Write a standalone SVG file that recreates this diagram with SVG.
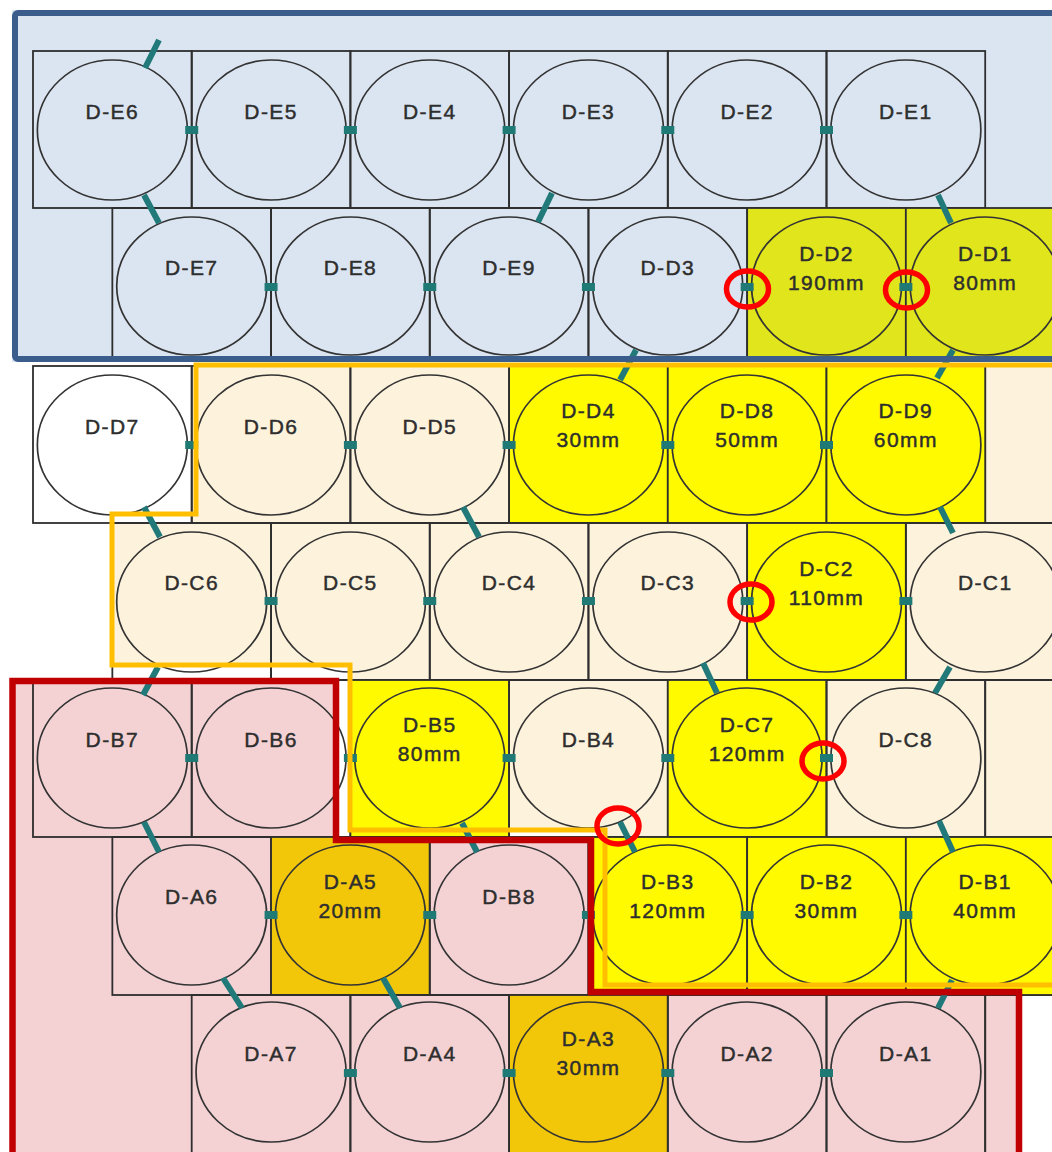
<svg xmlns="http://www.w3.org/2000/svg" width="1052" height="1152" viewBox="0 0 1052 1152">
<defs>
<style>
.cell{fill:none;stroke:#2e2e2e;stroke-width:1.8}
.y{fill:#fffa00}
.yg{fill:#e0e51c}
.gd{fill:#f2c70a}
.w{fill:#ffffff}
.c{fill:none;stroke:#333;stroke-width:1.7}
.t{font-family:"Liberation Sans",Arial,sans-serif;font-size:21px;fill:#2e2e2e;stroke:#2e2e2e;stroke-width:0.45;text-anchor:middle;letter-spacing:1.4px}
.dc{stroke:#21797a;stroke-width:6;stroke-linecap:butt}
.sq{fill:#1f7a76}
.hl{fill:none;stroke:#ff0000;stroke-width:5.5}
</style>
</defs>
<rect width="1052" height="1152" fill="#ffffff"/>
<g id="region-fills">
<rect x="12" y="10" width="1050" height="352" fill="#dbe5f1"/>
<polygon points="196,365 1060,365 1060,985 605,985 605,830 350,830 350,665 112,665 112,514 196,514" fill="#fdf2dc"/>
<polygon points="12,681 336,681 336,840 591,840 591,992 1019,992 1019,1160 12,1160" fill="#f4d2d4"/>
</g>
<g id="grid">
<rect class="cell" x="985.2" y="366" width="158.7" height="157"/>
<rect class="cell" x="985.2" y="680" width="158.7" height="157"/>
<rect class="cell" x="985.2" y="995" width="158.7" height="165"/>
</g>
<g id="nodes">
<g id="D-E6"><rect class="cell" x="33" y="51" width="158.7" height="157"/><ellipse class="c" cx="112.35" cy="130" rx="75" ry="70"/><text class="t" x="112.35" y="119">D-E6</text></g>
<g id="D-E5"><rect class="cell" x="191.7" y="51" width="158.7" height="157"/><ellipse class="c" cx="271.05" cy="130" rx="75" ry="70"/><text class="t" x="271.05" y="119">D-E5</text></g>
<g id="D-E4"><rect class="cell" x="350.4" y="51" width="158.7" height="157"/><ellipse class="c" cx="429.75" cy="130" rx="75" ry="70"/><text class="t" x="429.75" y="119">D-E4</text></g>
<g id="D-E3"><rect class="cell" x="509.1" y="51" width="158.7" height="157"/><ellipse class="c" cx="588.45" cy="130" rx="75" ry="70"/><text class="t" x="588.45" y="119">D-E3</text></g>
<g id="D-E2"><rect class="cell" x="667.8" y="51" width="158.7" height="157"/><ellipse class="c" cx="747.15" cy="130" rx="75" ry="70"/><text class="t" x="747.15" y="119">D-E2</text></g>
<g id="D-E1"><rect class="cell" x="826.5" y="51" width="158.7" height="157"/><ellipse class="c" cx="905.85" cy="130" rx="75" ry="70"/><text class="t" x="905.85" y="119">D-E1</text></g>

<g id="D-E7"><rect class="cell" x="112.35" y="208" width="158.7" height="150"/><ellipse class="c" cx="191.7" cy="286" rx="75" ry="69"/><text class="t" x="191.7" y="275">D-E7</text></g>
<g id="D-E8"><rect class="cell" x="271.05" y="208" width="158.7" height="150"/><ellipse class="c" cx="350.4" cy="286" rx="75" ry="69"/><text class="t" x="350.4" y="275">D-E8</text></g>
<g id="D-E9"><rect class="cell" x="429.75" y="208" width="158.7" height="150"/><ellipse class="c" cx="509.1" cy="286" rx="75" ry="69"/><text class="t" x="509.1" y="275">D-E9</text></g>
<g id="D-D3"><rect class="cell" x="588.45" y="208" width="158.7" height="150"/><ellipse class="c" cx="667.8" cy="286" rx="75" ry="69"/><text class="t" x="667.8" y="275">D-D3</text></g>
<g id="D-D2"><rect class="cell yg" x="747.15" y="208" width="158.7" height="150"/><ellipse class="c" cx="826.5" cy="286" rx="75" ry="69"/><text class="t" x="826.5" y="261">D-D2</text><text class="t" x="826.5" y="290">190mm</text></g>
<g id="D-D1"><rect class="cell yg" x="905.85" y="208" width="158.7" height="150"/><ellipse class="c" cx="985.2" cy="286" rx="75" ry="69"/><text class="t" x="985.2" y="261">D-D1</text><text class="t" x="985.2" y="290">80mm</text></g>

<g id="D-D7"><rect class="cell w" x="33" y="366" width="158.7" height="157"/><ellipse class="c" cx="112.35" cy="445" rx="75" ry="70"/><text class="t" x="112.35" y="434">D-D7</text></g>
<g id="D-D6"><rect class="cell" x="191.7" y="366" width="158.7" height="157"/><ellipse class="c" cx="271.05" cy="445" rx="75" ry="70"/><text class="t" x="271.05" y="434">D-D6</text></g>
<g id="D-D5"><rect class="cell" x="350.4" y="366" width="158.7" height="157"/><ellipse class="c" cx="429.75" cy="445" rx="75" ry="70"/><text class="t" x="429.75" y="434">D-D5</text></g>
<g id="D-D4"><rect class="cell y" x="509.1" y="366" width="158.7" height="157"/><ellipse class="c" cx="588.45" cy="445" rx="75" ry="70"/><text class="t" x="588.45" y="418">D-D4</text><text class="t" x="588.45" y="447">30mm</text></g>
<g id="D-D8"><rect class="cell y" x="667.8" y="366" width="158.7" height="157"/><ellipse class="c" cx="747.15" cy="445" rx="75" ry="70"/><text class="t" x="747.15" y="418">D-D8</text><text class="t" x="747.15" y="447">50mm</text></g>
<g id="D-D9"><rect class="cell y" x="826.5" y="366" width="158.7" height="157"/><ellipse class="c" cx="905.85" cy="445" rx="75" ry="70"/><text class="t" x="905.85" y="418">D-D9</text><text class="t" x="905.85" y="447">60mm</text></g>

<g id="D-C6"><rect class="cell" x="112.35" y="523" width="158.7" height="157"/><ellipse class="c" cx="191.7" cy="602" rx="75" ry="70"/><text class="t" x="191.7" y="590">D-C6</text></g>
<g id="D-C5"><rect class="cell" x="271.05" y="523" width="158.7" height="157"/><ellipse class="c" cx="350.4" cy="602" rx="75" ry="70"/><text class="t" x="350.4" y="590">D-C5</text></g>
<g id="D-C4"><rect class="cell" x="429.75" y="523" width="158.7" height="157"/><ellipse class="c" cx="509.1" cy="602" rx="75" ry="70"/><text class="t" x="509.1" y="590">D-C4</text></g>
<g id="D-C3"><rect class="cell" x="588.45" y="523" width="158.7" height="157"/><ellipse class="c" cx="667.8" cy="602" rx="75" ry="70"/><text class="t" x="667.8" y="590">D-C3</text></g>
<g id="D-C2"><rect class="cell y" x="747.15" y="523" width="158.7" height="157"/><ellipse class="c" cx="826.5" cy="602" rx="75" ry="70"/><text class="t" x="826.5" y="576">D-C2</text><text class="t" x="826.5" y="605">110mm</text></g>
<g id="D-C1"><rect class="cell" x="905.85" y="523" width="158.7" height="157"/><ellipse class="c" cx="985.2" cy="602" rx="75" ry="70"/><text class="t" x="985.2" y="590">D-C1</text></g>

<g id="D-B7"><rect class="cell" x="33" y="680" width="158.7" height="157"/><ellipse class="c" cx="112.35" cy="758" rx="75" ry="70"/><text class="t" x="112.35" y="747">D-B7</text></g>
<g id="D-B6"><rect class="cell" x="191.7" y="680" width="158.7" height="157"/><ellipse class="c" cx="271.05" cy="758" rx="75" ry="70"/><text class="t" x="271.05" y="747">D-B6</text></g>
<g id="D-B5"><rect class="cell y" x="350.4" y="680" width="158.7" height="157"/><ellipse class="c" cx="429.75" cy="758" rx="75" ry="70"/><text class="t" x="429.75" y="732">D-B5</text><text class="t" x="429.75" y="761">80mm</text></g>
<g id="D-B4"><rect class="cell" x="509.1" y="680" width="158.7" height="157"/><ellipse class="c" cx="588.45" cy="758" rx="75" ry="70"/><text class="t" x="588.45" y="747">D-B4</text></g>
<g id="D-C7"><rect class="cell y" x="667.8" y="680" width="158.7" height="157"/><ellipse class="c" cx="747.15" cy="758" rx="75" ry="70"/><text class="t" x="747.15" y="732">D-C7</text><text class="t" x="747.15" y="761">120mm</text></g>
<g id="D-C8"><rect class="cell" x="826.5" y="680" width="158.7" height="157"/><ellipse class="c" cx="905.85" cy="758" rx="75" ry="70"/><text class="t" x="905.85" y="747">D-C8</text></g>

<g id="D-A6"><rect class="cell" x="112.35" y="837" width="158.7" height="158"/><ellipse class="c" cx="191.7" cy="915" rx="75" ry="70"/><text class="t" x="191.7" y="904">D-A6</text></g>
<g id="D-A5"><rect class="cell gd" x="271.05" y="837" width="158.7" height="158"/><ellipse class="c" cx="350.4" cy="915" rx="75" ry="70"/><text class="t" x="350.4" y="889">D-A5</text><text class="t" x="350.4" y="918">20mm</text></g>
<g id="D-B8"><rect class="cell" x="429.75" y="837" width="158.7" height="158"/><ellipse class="c" cx="509.1" cy="915" rx="75" ry="70"/><text class="t" x="509.1" y="904">D-B8</text></g>
<g id="D-B3"><rect class="cell y" x="588.45" y="837" width="158.7" height="158"/><ellipse class="c" cx="667.8" cy="915" rx="75" ry="70"/><text class="t" x="667.8" y="889">D-B3</text><text class="t" x="667.8" y="918">120mm</text></g>
<g id="D-B2"><rect class="cell y" x="747.15" y="837" width="158.7" height="158"/><ellipse class="c" cx="826.5" cy="915" rx="75" ry="70"/><text class="t" x="826.5" y="889">D-B2</text><text class="t" x="826.5" y="918">30mm</text></g>
<g id="D-B1"><rect class="cell y" x="905.85" y="837" width="158.7" height="158"/><ellipse class="c" cx="985.2" cy="915" rx="75" ry="70"/><text class="t" x="985.2" y="889">D-B1</text><text class="t" x="985.2" y="918">40mm</text></g>

<g id="D-A7"><rect class="cell" x="191.7" y="995" width="158.7" height="165"/><ellipse class="c" cx="271.05" cy="1072" rx="75" ry="70"/><text class="t" x="271.05" y="1061">D-A7</text></g>
<g id="D-A4"><rect class="cell" x="350.4" y="995" width="158.7" height="165"/><ellipse class="c" cx="429.75" cy="1072" rx="75" ry="70"/><text class="t" x="429.75" y="1061">D-A4</text></g>
<g id="D-A3"><rect class="cell gd" x="509.1" y="995" width="158.7" height="165"/><ellipse class="c" cx="588.45" cy="1072" rx="75" ry="70"/><text class="t" x="588.45" y="1046">D-A3</text><text class="t" x="588.45" y="1075">30mm</text></g>
<g id="D-A2"><rect class="cell" x="667.8" y="995" width="158.7" height="165"/><ellipse class="c" cx="747.15" cy="1072" rx="75" ry="70"/><text class="t" x="747.15" y="1061">D-A2</text></g>
<g id="D-A1"><rect class="cell" x="826.5" y="995" width="158.7" height="165"/><ellipse class="c" cx="905.85" cy="1072" rx="75" ry="70"/><text class="t" x="905.85" y="1061">D-A1</text></g>
</g>
<g id="connectors">
<line class="dc" x1="145" y1="68" x2="159" y2="40"/>
<line class="dc" x1="144" y1="195" x2="159" y2="223"/>
<line class="dc" x1="552" y1="193" x2="538" y2="222"/>
<line class="dc" x1="938" y1="195" x2="951" y2="223"/>
<line class="dc" x1="636" y1="350" x2="620" y2="380"/>
<line class="dc" x1="953" y1="350" x2="937" y2="378"/>
<line class="dc" x1="144" y1="507" x2="160" y2="537"/>
<line class="dc" x1="463" y1="507" x2="479" y2="537"/>
<line class="dc" x1="940" y1="507" x2="953" y2="533"/>
<line class="dc" x1="158" y1="667" x2="143" y2="695"/>
<line class="dc" x1="703" y1="663" x2="717" y2="693"/>
<line class="dc" x1="950" y1="667" x2="935" y2="693"/>
<line class="dc" x1="144" y1="822" x2="159" y2="852"/>
<line class="dc" x1="462" y1="823" x2="477" y2="852"/>
<line class="dc" x1="620" y1="822" x2="635" y2="852"/>
<line class="dc" x1="939" y1="821" x2="953" y2="852"/>
<line class="dc" x1="223" y1="978" x2="242" y2="1008"/>
<line class="dc" x1="383" y1="978" x2="400" y2="1008"/>
<line class="dc" x1="952" y1="980" x2="938" y2="1008"/>
<rect class="sq" x="185.2" y="126" width="13" height="8"/>
<rect class="sq" x="343.9" y="126" width="13" height="8"/>
<rect class="sq" x="502.6" y="126" width="13" height="8"/>
<rect class="sq" x="661.3" y="126" width="13" height="8"/>
<rect class="sq" x="820" y="126" width="13" height="8"/>
<rect class="sq" x="264.55" y="283" width="13" height="8"/>
<rect class="sq" x="423.25" y="283" width="13" height="8"/>
<rect class="sq" x="581.95" y="283" width="13" height="8"/>
<rect class="sq" x="740.65" y="283" width="13" height="8"/>
<rect class="sq" x="899.35" y="283" width="13" height="8"/>
<rect class="sq" x="185.2" y="441" width="13" height="8"/>
<rect class="sq" x="343.9" y="441" width="13" height="8"/>
<rect class="sq" x="502.6" y="441" width="13" height="8"/>
<rect class="sq" x="661.3" y="441" width="13" height="8"/>
<rect class="sq" x="820" y="441" width="13" height="8"/>
<rect class="sq" x="264.55" y="597" width="13" height="8"/>
<rect class="sq" x="423.25" y="597" width="13" height="8"/>
<rect class="sq" x="581.95" y="597" width="13" height="8"/>
<rect class="sq" x="740.65" y="597" width="13" height="8"/>
<rect class="sq" x="899.35" y="597" width="13" height="8"/>
<rect class="sq" x="185.2" y="754" width="13" height="8"/>
<rect class="sq" x="343.9" y="754" width="13" height="8"/>
<rect class="sq" x="502.6" y="754" width="13" height="8"/>
<rect class="sq" x="661.3" y="754" width="13" height="8"/>
<rect class="sq" x="820" y="754" width="13" height="8"/>
<rect class="sq" x="264.55" y="911" width="13" height="8"/>
<rect class="sq" x="423.25" y="911" width="13" height="8"/>
<rect class="sq" x="581.95" y="911" width="13" height="8"/>
<rect class="sq" x="740.65" y="911" width="13" height="8"/>
<rect class="sq" x="899.35" y="911" width="13" height="8"/>
<rect class="sq" x="343.9" y="1069" width="13" height="8"/>
<rect class="sq" x="502.6" y="1069" width="13" height="8"/>
<rect class="sq" x="661.3" y="1069" width="13" height="8"/>
<rect class="sq" x="820" y="1069" width="13" height="8"/>
</g>
<g id="region-borders">
<rect x="15" y="13" width="1050" height="346" rx="3" fill="none" stroke="#3a5d8b" stroke-width="6"/>
<polyline points="1060,365 196,365 196,514 112,514 112,665 350,665 350,830 605,830 605,985 1060,985" fill="none" stroke="#ffbf00" stroke-width="5"/>
<polyline points="12.5,1160 12.5,681 336,681 336,840 591,840 591,992 1019,992 1019,1160" fill="none" stroke="#c00000" stroke-width="6.5"/>
</g>
<g id="highlights">
<ellipse class="hl" cx="747.5" cy="289" rx="21" ry="18"/>
<ellipse class="hl" cx="906.5" cy="290" rx="21" ry="18"/>
<ellipse class="hl" cx="751" cy="602" rx="21" ry="18"/>
<ellipse class="hl" cx="823" cy="761" rx="21" ry="18"/>
<ellipse class="hl" cx="618" cy="826" rx="21" ry="18"/>
</g>
</svg>
